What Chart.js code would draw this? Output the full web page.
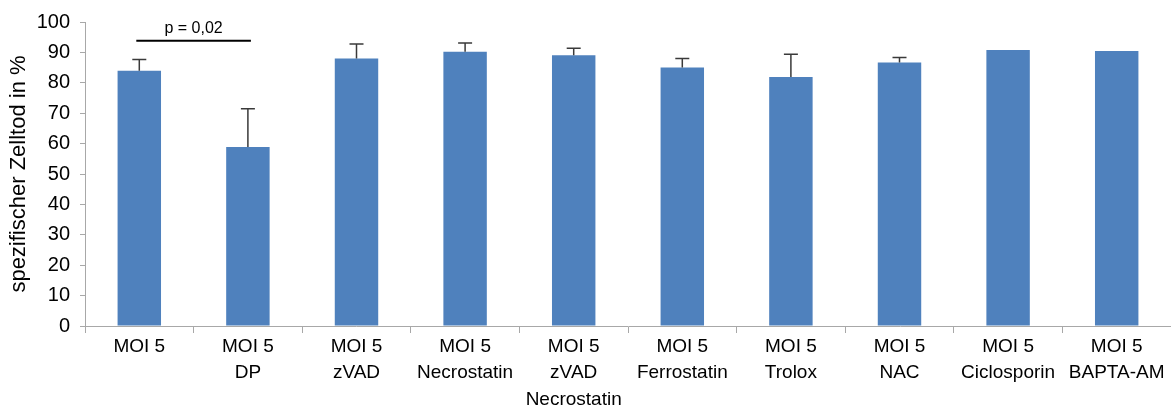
<!DOCTYPE html>
<html>
<head>
<meta charset="utf-8">
<script src="https://cdn.jsdelivr.net/npm/chart.js@4.4.1/dist/chart.umd.min.js"></script>
<style>
  html, body { margin: 0; padding: 0; background: #fff; }
  #wrap { width: 1171px; height: 408px; }
</style>
</head>
<body>
<div id="wrap"><canvas id="zelltod-chart"></canvas></div>
<script>
// categories (multi line labels)
const labelGroups = [
    ["MOI 5"],
    ["MOI 5", "DP"],
    ["MOI 5", "zVAD"],
    ["MOI 5", "Necrostatin"],
    ["MOI 5", "zVAD", "Necrostatin"],
    ["MOI 5", "Ferrostatin"],
    ["MOI 5", "Trolox"],
    ["MOI 5", "NAC"],
    ["MOI 5", "Ciclosporin"],
    ["MOI 5", "BAPTA-AM"]
]

// mean values in %
const zelltod = [84.0, 58.9, 88.0, 90.2, 89.1, 85.0, 81.9, 86.7, 90.8, 90.5]

// upper error (SD)
const fehler = [3.7, 12.6, 4.8, 2.9, 2.3, 3.0, 7.5, 1.6, 0, 0]

// significance bracket
const sigPair = [0, 1]
const sigLevel = 93.8
const sigText = "p = 0,02"

// draw the error bars on top of each bar
const errorBars = {
    id: "errorBars",
    afterDatasetsDraw(chart) {
        const ctx = chart.ctx;
        const yScale = chart.scales.y;
        const meta = chart.getDatasetMeta(0);
        ctx.save();
        ctx.strokeStyle = "#3a3a3a";
        ctx.lineWidth = 1.5;
        meta.data.forEach(function(bar, i) {
            if (!fehler[i]) return;
            const yTop = yScale.getPixelForValue(zelltod[i] + fehler[i]);
            ctx.beginPath();
            ctx.moveTo(bar.x, bar.y);
            ctx.lineTo(bar.x, yTop);
            ctx.moveTo(bar.x - 7, yTop);
            ctx.lineTo(bar.x + 7, yTop);
            ctx.stroke();
        });
        ctx.restore();
    }
}

// p value bracket between first two bars
const sigBracket = {
    id: "sigBracket",
    afterDatasetsDraw(chart) {
        const ctx = chart.ctx;
        const x1 = chart.scales.x.getPixelForValue(sigPair[0]);
        const x2 = chart.scales.x.getPixelForValue(sigPair[1]);
        const y = chart.scales.y.getPixelForValue(sigLevel);
        ctx.save();
        ctx.strokeStyle = "#000";
        ctx.lineWidth = 2;
        ctx.beginPath();
        ctx.moveTo(x1 - 3, y);
        ctx.lineTo(x2 + 3, y);
        ctx.stroke();
        ctx.fillStyle = "#000";
        ctx.font = "16px 'Liberation Sans', Arial, sans-serif";
        ctx.textAlign = "center";
        ctx.textBaseline = "bottom";
        ctx.fillText(sigText, (x1 + x2) / 2, y - 4);
        ctx.restore();
    }
}

new Chart("zelltod-chart", {
    type: "bar",
    data: {
        labels: labelGroups,
        datasets: [
            {
                label: "spezifischer Zelltod",
                data: zelltod,
                backgroundColor: "rgb(79, 129, 189)",
                borderWidth: 0,
                barPercentage: 0.4,
                categoryPercentage: 1.0
            }
        ]
    },
    options: {
        responsive: true,
        maintainAspectRatio: false,
        animation: false,
        layout: {
            autoPadding: false,
            padding: { top: 20, right: 0, bottom: 0, left: 0 }
        },
        plugins: {
            legend: { display: false },
            tooltip: { enabled: false }
        },
        scales: {
            x: {
                offset: true,
                grid: {
                    offset: true,
                    drawOnChartArea: false,
                    color: "#a8a8a8",
                    tickLength: 7
                },
                border: { color: "#a8a8a8", width: 1 },
                ticks: {
                    color: "#000",
                    maxRotation: 0,
                    autoSkip: false,
                    padding: 0,
                    font: { family: "'Liberation Sans', Arial, sans-serif", size: 19, lineHeight: 1.4 }
                },
                afterFit(scale) { scale.height = 82; }
            },
            y: {
                min: 0,
                max: 100,
                ticks: {
                    stepSize: 10,
                    color: "#000",
                    padding: 10,
                    font: { family: "'Liberation Sans', Arial, sans-serif", size: 20 }
                },
                grid: {
                    drawOnChartArea: false,
                    color: "#a8a8a8",
                    tickLength: 5
                },
                border: { color: "#a8a8a8", width: 1 },
                title: {
                    display: true,
                    text: "spezifischer Zelltod in %",
                    color: "#000",
                    padding: { top: 6, bottom: 0 },
                    font: { family: "'Liberation Sans', Arial, sans-serif", size: 22 }
                },
                afterFit(scale) { scale.width = 85; }
            }
        }
    },
    plugins: [errorBars, sigBracket]
});
</script>
</body>
</html>
